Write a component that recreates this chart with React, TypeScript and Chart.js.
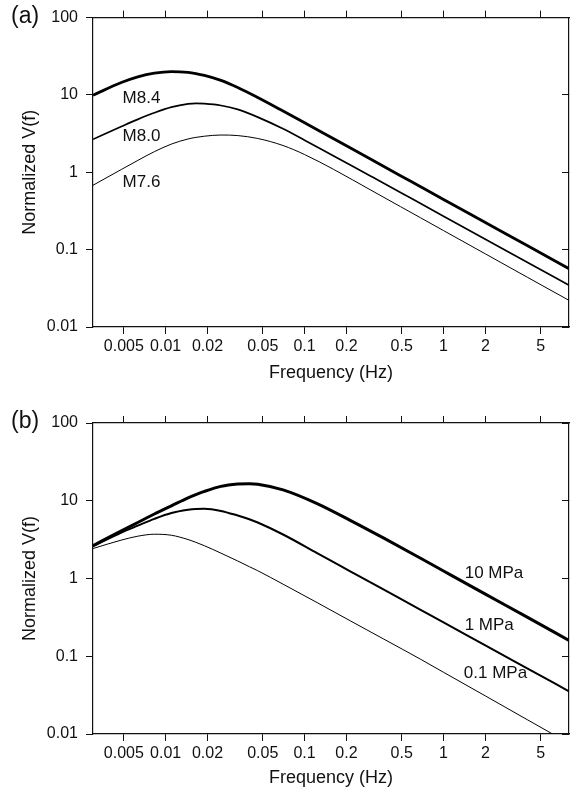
import React, { useEffect, useRef } from "react";
import { Chart, registerables } from "chart.js";

Chart.register(...registerables);

// ---------- axis setup ----------
const xTickValues = [0.005, 0.01, 0.02, 0.05, 0.1, 0.2, 0.5, 1, 2, 5];
const yTickValues = [0.01, 0.1, 1, 10, 100];
const X_MIN = 0.003;
const X_MAX = 8;
const Y_MIN = 0.01;
const Y_MAX = 100;

// ---------- panel (a): magnitude dependence ----------
const freqA = [0.003, 0.0048, 0.0063, 0.0083, 0.011, 0.0145, 0.0165, 0.019, 0.025, 0.033, 0.046, 0.07, 0.1, 0.162, 0.3, 0.49, 0.684, 1, 2, 4, 8];
const m84 = [9.93, 14.46, 17.12, 19.11, 20.0, 19.56, 18.91, 17.92, 15.45, 12.51, 9.28, 6.2, 4.37, 2.71, 1.472, 0.905, 0.65, 0.446, 0.2245, 0.113, 0.0568];
const m80 = [2.67, 3.9, 4.83, 5.88, 6.96, 7.67, 7.8, 7.72, 7.31, 6.5, 5.17, 3.65, 2.6, 1.62, 0.89, 0.55, 0.394, 0.27, 0.136, 0.0685, 0.0347];
const m76 = [0.68, 1.088, 1.424, 1.85, 2.317, 2.698, 2.827, 2.928, 3.034, 2.985, 2.737, 2.219, 1.697, 1.089, 0.588, 0.36, 0.258, 0.1764, 0.0882, 0.0441, 0.0221];
const labelsA = ["M8.4", "M8.0", "M7.6"];

// ---------- panel (b): stress-drop dependence ----------
const freqB = [0.003, 0.0048, 0.0063, 0.0083, 0.011, 0.0145, 0.0165, 0.019, 0.025, 0.033, 0.04, 0.046, 0.07, 0.123, 0.213, 0.372, 0.684, 1, 2, 4, 8];
const mpa10 = [2.65, 4.1, 5.25, 6.75, 8.6, 10.9, 12.0, 13.2, 15.3, 16.4, 16.6, 16.35, 13.8, 9.2, 5.6, 3.3, 1.82, 1.25, 0.63, 0.318, 0.16];
const mpa1 = [2.6, 3.9, 4.78, 5.85, 6.95, 7.65, 7.85, 7.9, 7.4, 6.45, 5.78, 5.25, 3.68, 2.12, 1.238, 0.717, 0.395, 0.272, 0.138, 0.0699, 0.0354];
const mpa01 = [2.43, 3.12, 3.5, 3.71, 3.6, 3.17, 2.92, 2.64, 2.12, 1.68, 1.42, 1.26, 0.845, 0.49, 0.286, 0.166, 0.0915, 0.0622, 0.0309, 0.0153, 0.0076];
const labelsB = ["10 MPa", "1 MPa", "0.1 MPa"];

const FONT = "'Liberation Sans', Arial, Helvetica, sans-serif";
const INK = "#111111";

type Pt = { x: number; y: number };
type LabelSpec = { text: string; at: Pt };

function series(freqs: number[], vals: number[]): Pt[] {
  return freqs.map((f, i) => ({ x: f, y: vals[i] }));
}

type PanelProps = {
  letter: string;
  top: number;
  height: number;
  topAxisH: number;
  bottomAxisH: number;
  lines: { label: string; data: Pt[]; width: number }[];
  labels: LabelSpec[];
};

function Panel({ letter, top, height, topAxisH, bottomAxisH, lines, labels }: PanelProps) {
  const ref = useRef<HTMLCanvasElement | null>(null);

  useEffect(() => {
    if (!ref.current) return;
    const annot = {
      id: "annot",
      afterDatasetsDraw(chart: any) {
        const { ctx, chartArea, scales } = chart;
        ctx.save();
        ctx.fillStyle = INK;
        ctx.textBaseline = "middle";
        ctx.textAlign = "left";
        ctx.font = `17px ${FONT}`;
        for (const l of labels) {
          ctx.fillText(l.text, scales.x.getPixelForValue(l.at.x), scales.y.getPixelForValue(l.at.y));
        }
        ctx.font = `23px ${FONT}`;
        ctx.fillText(letter, 11, chartArea.top - 1);
        ctx.restore();
      },
    };

    const setXTicks = (s: any) => {
      s.ticks = xTickValues.map((v) => ({ value: v }));
    };
    const setYTicks = (s: any) => {
      s.ticks = yTickValues.map((v) => ({ value: v }));
    };
    const border = { display: true, color: INK, width: 1.2 };

    const chart = new Chart(ref.current, {
      type: "line",
      data: {
        datasets: lines.map((l) => ({
          label: l.label,
          data: l.data,
          borderColor: "#000",
          borderWidth: l.width,
          pointRadius: 0,
          fill: false,
          cubicInterpolationMode: "monotone" as const,
          xAxisID: "x",
          yAxisID: "y",
        })),
      },
      options: {
        responsive: false,
        maintainAspectRatio: false,
        animation: false,
        layout: { padding: 0 },
        plugins: { legend: { display: false }, tooltip: { enabled: false } },
        scales: {
          x: {
            type: "logarithmic",
            position: "bottom",
            min: X_MIN,
            max: X_MAX,
            afterBuildTicks: setXTicks,
            afterFit: (s: any) => {
              s.height = bottomAxisH;
            },
            ticks: {
              autoSkip: false,
              maxRotation: 0,
              minRotation: 0,
              padding: 3,
              color: INK,
              font: { family: FONT, size: 16 },
              callback: (v: any) => String(v),
            },
            grid: { drawOnChartArea: false, drawTicks: true, tickLength: 7, color: INK, lineWidth: 1 },
            border,
            title: {
              display: true,
              text: "Frequency (Hz)",
              color: INK,
              font: { family: FONT, size: 18 },
              padding: { top: 0, bottom: 6 },
            },
          },
          xTop: {
            type: "logarithmic",
            position: "top",
            min: X_MIN,
            max: X_MAX,
            afterBuildTicks: setXTicks,
            afterFit: (s: any) => {
              s.height = topAxisH;
            },
            ticks: { display: false },
            grid: { drawOnChartArea: false, drawTicks: true, tickLength: 7, color: INK, lineWidth: 1 },
            border,
          },
          y: {
            type: "logarithmic",
            position: "left",
            min: Y_MIN,
            max: Y_MAX,
            afterBuildTicks: setYTicks,
            afterFit: (s: any) => {
              s.width = 93;
            },
            ticks: {
              autoSkip: false,
              padding: 8,
              color: INK,
              font: { family: FONT, size: 16 },
              callback: (v: any) => String(v),
            },
            grid: { drawOnChartArea: false, drawTicks: true, tickLength: 7, color: INK, lineWidth: 1 },
            border,
            title: {
              display: true,
              text: "Normalized V(f)",
              color: INK,
              font: { family: FONT, size: 18 },
              padding: { top: 19, bottom: 0 },
            },
          },
          yRight: {
            type: "logarithmic",
            position: "right",
            min: Y_MIN,
            max: Y_MAX,
            afterBuildTicks: setYTicks,
            afterFit: (s: any) => {
              s.width = 5;
            },
            ticks: { display: false },
            grid: { drawOnChartArea: false, drawTicks: true, tickLength: -7, color: INK, lineWidth: 1 },
            border,
          },
        },
      } as any,
      plugins: [annot],
    });
    return () => chart.destroy();
  }, []);

  return (
    <canvas
      ref={ref}
      width={574}
      height={height}
      style={{ position: "absolute", left: 0, top, width: 574, height, display: "block" }}
    />
  );
}

export default function App() {
  const panelA = [
    { label: labelsA[0], data: series(freqA, m84), width: 2.8 },
    { label: labelsA[1], data: series(freqA, m80), width: 1.7 },
    { label: labelsA[2], data: series(freqA, m76), width: 1.0 },
  ];
  const panelB = [
    { label: labelsB[0], data: series(freqB, mpa10), width: 3.0 },
    { label: labelsB[1], data: series(freqB, mpa1), width: 2.0 },
    { label: labelsB[2], data: series(freqB, mpa01), width: 1.0 },
  ];
  const annA: LabelSpec[] = [
    { text: labelsA[0], at: { x: 0.0049, y: 9.16 } },
    { text: labelsA[1], at: { x: 0.0049, y: 2.95 } },
    { text: labelsA[2], at: { x: 0.0049, y: 0.74 } },
  ];
  const annB: LabelSpec[] = [
    { text: labelsB[0], at: { x: 1.42, y: 1.16 } },
    { text: labelsB[1], at: { x: 1.42, y: 0.251 } },
    { text: labelsB[2], at: { x: 1.40, y: 0.06 } },
  ];
  return (
    <div style={{ position: "absolute", left: 0, top: 0, width: 574, height: 795, background: "#fff" }}>
      <Panel letter="(a)" top={0} height={390} topAxisH={16} bottomAxisH={63} lines={panelA} labels={annA} />
      <Panel letter="(b)" top={390} height={405} topAxisH={33} bottomAxisH={61} lines={panelB} labels={annB} />
    </div>
  );
}
